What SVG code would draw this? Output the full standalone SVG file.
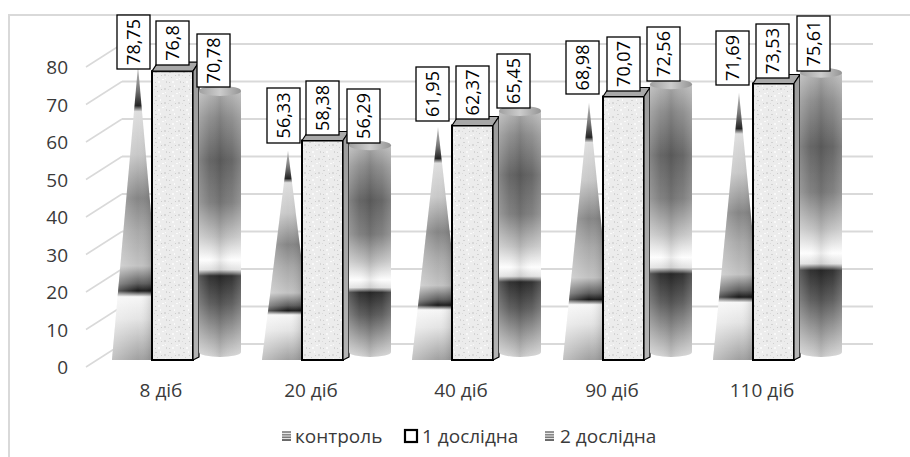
<svg xmlns="http://www.w3.org/2000/svg" width="910" height="457" viewBox="0 0 910 457">
<defs>
<linearGradient id="gc" x1="0" y1="0" x2="0" y2="1">
<stop offset="0" stop-color="#c4c4c4"/><stop offset="0.08" stop-color="#777"/><stop offset="0.135" stop-color="#222"/><stop offset="0.155" stop-color="#dedede"/><stop offset="0.3" stop-color="#c8c8c8"/><stop offset="0.45" stop-color="#858585"/><stop offset="0.56" stop-color="#a8a8a8"/><stop offset="0.68" stop-color="#c2c2c2"/><stop offset="0.74" stop-color="#5e5e5e"/><stop offset="0.765" stop-color="#1a1a1a"/><stop offset="0.785" stop-color="#f6f6f6"/><stop offset="0.86" stop-color="#e4e4e4"/><stop offset="1" stop-color="#a0a0a0"/>
</linearGradient>
<linearGradient id="gch" x1="0" y1="0" x2="1" y2="0">
<stop offset="0" stop-color="#fff" stop-opacity="0.35"/><stop offset="0.5" stop-color="#fff" stop-opacity="0"/><stop offset="0.75" stop-color="#000" stop-opacity="0.12"/><stop offset="1" stop-color="#000" stop-opacity="0.3"/>
</linearGradient>
<linearGradient id="gy" x1="0" y1="0" x2="0" y2="1">
<stop offset="0" stop-color="#b4b4b4"/><stop offset="0.1" stop-color="#8c8c8c"/><stop offset="0.26" stop-color="#606060"/><stop offset="0.42" stop-color="#7c7c7c"/><stop offset="0.55" stop-color="#c2c2c2"/><stop offset="0.635" stop-color="#fdfdfd"/><stop offset="0.672" stop-color="#dedede"/><stop offset="0.695" stop-color="#2a2a2a"/><stop offset="0.8" stop-color="#5a5a5a"/><stop offset="1" stop-color="#d4d4d4"/>
</linearGradient>
<linearGradient id="gyh" x1="0" y1="0" x2="1" y2="0">
<stop offset="0" stop-color="#fff" stop-opacity="0.22"/><stop offset="0.25" stop-color="#fff" stop-opacity="0.04"/><stop offset="0.5" stop-color="#000" stop-opacity="0.08"/><stop offset="0.78" stop-color="#fff" stop-opacity="0.04"/><stop offset="1" stop-color="#fff" stop-opacity="0.2"/>
</linearGradient>
<linearGradient id="gtop" x1="0" y1="0" x2="1" y2="0">
<stop offset="0" stop-color="#a0a0a0"/><stop offset="0.5" stop-color="#cccccc"/><stop offset="1" stop-color="#959595"/>
</linearGradient>
<linearGradient id="gside" x1="0" y1="0" x2="0" y2="1">
<stop offset="0" stop-color="#9c9c9c"/><stop offset="1" stop-color="#b4b4b4"/>
</linearGradient>
<pattern id="tex" width="14" height="14" patternUnits="userSpaceOnUse">
<rect width="14" height="14" fill="#ececec"/>
<rect x="1" y="2" width="2" height="1" fill="#d2d2d2"/><rect x="6" y="1" width="1" height="2" fill="#fafafa"/><rect x="10" y="4" width="2" height="2" fill="#d8d8d8"/><rect x="3" y="7" width="1" height="1" fill="#cfcfcf"/><rect x="8" y="9" width="2" height="1" fill="#fbfbfb"/><rect x="12" y="11" width="1" height="2" fill="#d4d4d4"/><rect x="4" y="11" width="2" height="2" fill="#f8f8f8"/><rect x="0" y="5" width="1" height="1" fill="#dadada"/><rect x="7" y="5" width="1" height="1" fill="#cccccc"/><rect x="11" y="8" width="1" height="1" fill="#f9f9f9"/><rect x="1" y="12" width="1" height="1" fill="#d0d0d0"/>
</pattern>
<linearGradient id="gleg" x1="0" y1="0" x2="0" y2="1">
<stop offset="0" stop-color="#999"/><stop offset="1" stop-color="#666"/>
</linearGradient>
</defs>
<style>
.ax{font-family:"Open Sans","Liberation Sans",sans-serif;font-size:19px;fill:#3a3a3a}
.dl{font-family:"Open Sans","Liberation Sans",sans-serif;font-size:18px;fill:#000}
.lb{fill:#fff;stroke:#000;stroke-width:1.3}
.gl{stroke:#d9d9d9;stroke-width:2;fill:none}
.gd{stroke:#d9d9d9;stroke-width:1.5;fill:none}
.cone{fill:url(#gc)}
.coneh{fill:url(#gch)}
.box{fill:url(#tex);stroke:#000;stroke-width:2}
.btop{fill:#a8a8a8;stroke:#000;stroke-width:1.2;stroke-linejoin:round}
.bside{fill:url(#gside);stroke:#000;stroke-width:1.2;stroke-linejoin:round}
.cyl{fill:url(#gy)}
.cylh{fill:url(#gyh)}
.ctop{fill:url(#gtop)}
</style>
<rect x="0" y="0" width="910" height="457" fill="#fff"/>
<rect x="9" y="15" width="910" height="460" fill="#fff" stroke="#d9d9d9" stroke-width="2"/>
<g id="grid">
<path class="gd" d="M86,367 L122,344 M86,329.5 L122,306.5 M86,292 L122,269 M86,254.5 L122,231.5 M86,217 L122,194 M86,179.5 L122,156.5 M86,142 L122,119 M86,104.5 L122,81.5 M86,67 L122,44"/>
<path class="gl" d="M122,344 H873 M122,306.5 H873 M122,269 H873 M122,231.5 H873 M122,194 H873 M122,156.5 H873 M122,119 H873 M122,81.5 H873 M122,44 H873"/>
</g>
<g id="yaxis" class="ax" text-anchor="end">
<text x="68" y="374">0</text><text x="68" y="336.5">10</text><text x="68" y="299">20</text><text x="68" y="261.5">30</text><text x="68" y="224">40</text><text x="68" y="186.5">50</text><text x="68" y="149">60</text><text x="68" y="111.5">70</text><text x="68" y="74">80</text>
</g>
<g id="group-8">
<polygon class="cone" points="112,360 138,66 164,360"/><polygon class="coneh" points="112,360 138,66 164,360"/>
<rect class="box" x="152" y="71.2" width="41" height="288.8"/>
<polygon class="btop" points="152,71.2 158,62.2 199,62.2 193,71.2"/>
<polygon class="bside" points="193,71.2 199,62.2 199,357 193,360"/>
<path class="cyl" d="M199,90.9 V352 A21,5 0 0 0 241,352 V90.9 Z"/><path class="cylh" d="M199,90.9 V352 A21,5 0 0 0 241,352 V90.9 Z"/>
<ellipse class="ctop" cx="220" cy="90.9" rx="21" ry="5"/>
</g>
<g id="group-20">
<polygon class="cone" points="262,360 288,150.2 314,360"/><polygon class="coneh" points="262,360 288,150.2 314,360"/>
<rect class="box" x="302" y="140.5" width="41" height="219.5"/>
<polygon class="btop" points="302,140.5 308,131.5 349,131.5 343,140.5"/>
<polygon class="bside" points="343,140.5 349,131.5 349,357 343,360"/>
<path class="cyl" d="M349,145.3 V352 A21,5 0 0 0 391,352 V145.3 Z"/><path class="cylh" d="M349,145.3 V352 A21,5 0 0 0 391,352 V145.3 Z"/>
<ellipse class="ctop" cx="370" cy="145.3" rx="21" ry="5"/>
</g>
<g id="group-40">
<polygon class="cone" points="412,360 438,127 464,360"/><polygon class="coneh" points="412,360 438,127 464,360"/>
<rect class="box" x="452" y="125.5" width="41" height="234.5"/>
<polygon class="btop" points="452,125.5 458,116.5 499,116.5 493,125.5"/>
<polygon class="bside" points="493,125.5 499,116.5 499,357 493,360"/>
<path class="cyl" d="M499,110.9 V352 A21,5 0 0 0 541,352 V110.9 Z"/><path class="cylh" d="M499,110.9 V352 A21,5 0 0 0 541,352 V110.9 Z"/>
<ellipse class="ctop" cx="520" cy="110.9" rx="21" ry="5"/>
</g>
<g id="group-90">
<polygon class="cone" points="563,360 589,102.6 615,360"/><polygon class="coneh" points="563,360 589,102.6 615,360"/>
<rect class="box" x="603" y="96.5" width="41" height="263.5"/>
<polygon class="btop" points="603,96.5 609,87.5 650,87.5 644,96.5"/>
<polygon class="bside" points="644,96.5 650,87.5 650,357 644,360"/>
<path class="cyl" d="M650,84.2 V352 A21,5 0 0 0 692,352 V84.2 Z"/><path class="cylh" d="M650,84.2 V352 A21,5 0 0 0 692,352 V84.2 Z"/>
<ellipse class="ctop" cx="671" cy="84.2" rx="21" ry="5"/>
</g>
<g id="group-110">
<polygon class="cone" points="713,360 739,92.4 765,360"/><polygon class="coneh" points="713,360 739,92.4 765,360"/>
<rect class="box" x="753" y="83.5" width="41" height="276.5"/>
<polygon class="btop" points="753,83.5 759,74.5 800,74.5 794,83.5"/>
<polygon class="bside" points="794,83.5 800,74.5 800,357 794,360"/>
<path class="cyl" d="M800,72.7 V352 A21,5 0 0 0 842,352 V72.7 Z"/><path class="cylh" d="M800,72.7 V352 A21,5 0 0 0 842,352 V72.7 Z"/>
<ellipse class="ctop" cx="821" cy="72.7" rx="21" ry="5"/>
</g>
<g id="labels" class="dl" text-anchor="middle">
<rect class="lb" x="117" y="15" width="33" height="54"/><text transform="translate(133.5,42) rotate(-90)" dy="6.5">78,75</text>
<rect class="lb" x="156" y="21" width="33" height="44"/><text transform="translate(172.5,43) rotate(-90)" dy="6.5">76,8</text>
<rect class="lb" x="197" y="34" width="33" height="53"/><text transform="translate(213.5,60.5) rotate(-90)" dy="6.5">70,78</text>
<rect class="lb" x="267" y="88" width="33" height="55"/><text transform="translate(283.5,115.5) rotate(-90)" dy="6.5">56,33</text>
<rect class="lb" x="306" y="81" width="33" height="54"/><text transform="translate(322.5,108) rotate(-90)" dy="6.5">58,38</text>
<rect class="lb" x="347" y="89" width="33" height="54"/><text transform="translate(363.5,116) rotate(-90)" dy="6.5">56,29</text>
<rect class="lb" x="416" y="67" width="33" height="54"/><text transform="translate(432.5,94) rotate(-90)" dy="6.5">61,95</text>
<rect class="lb" x="456" y="66" width="33" height="53"/><text transform="translate(472.5,92.5) rotate(-90)" dy="6.5">62,37</text>
<rect class="lb" x="497" y="54" width="33" height="54"/><text transform="translate(513.5,81) rotate(-90)" dy="6.5">65,45</text>
<rect class="lb" x="566" y="41" width="33" height="53"/><text transform="translate(582.5,67.5) rotate(-90)" dy="6.5">68,98</text>
<rect class="lb" x="607" y="37" width="33" height="54"/><text transform="translate(623.5,64) rotate(-90)" dy="6.5">70,07</text>
<rect class="lb" x="647" y="27" width="33" height="54"/><text transform="translate(663.5,54) rotate(-90)" dy="6.5">72,56</text>
<rect class="lb" x="716" y="31" width="33" height="54"/><text transform="translate(732.5,58) rotate(-90)" dy="6.5">71,69</text>
<rect class="lb" x="756" y="24" width="33" height="54"/><text transform="translate(772.5,51) rotate(-90)" dy="6.5">73,53</text>
<rect class="lb" x="797" y="16" width="33" height="55"/><text transform="translate(813.5,43.5) rotate(-90)" dy="6.5">75,61</text>
</g>
<g id="xaxis" class="ax" text-anchor="middle">
<text x="161" y="397">8 діб</text><text x="311" y="397">20 діб</text><text x="461" y="397">40 діб</text><text x="612" y="397">90 діб</text><text x="762" y="397">110 діб</text>
</g>
<g id="legend" class="ax">
<g id="leg-control"><rect x="282" y="431" width="9" height="10" fill="url(#gleg)"/><path d="M282,433.5 H291 M282,436 H291 M282,438.5 H291" stroke="#fff" stroke-width="0.8"/><text x="295" y="443">контроль</text></g>
<g id="leg-1"><rect x="405" y="430" width="12" height="12" fill="#fff" stroke="#000" stroke-width="2.2"/><text x="422" y="443">1 дослідна</text></g>
<g id="leg-2"><rect x="545" y="431" width="9" height="10" fill="url(#gleg)"/><path d="M545,433.5 H554 M545,436 H554 M545,438.5 H554" stroke="#fff" stroke-width="0.8"/><text x="560" y="443">2 дослідна</text></g>
</g>
</svg>
